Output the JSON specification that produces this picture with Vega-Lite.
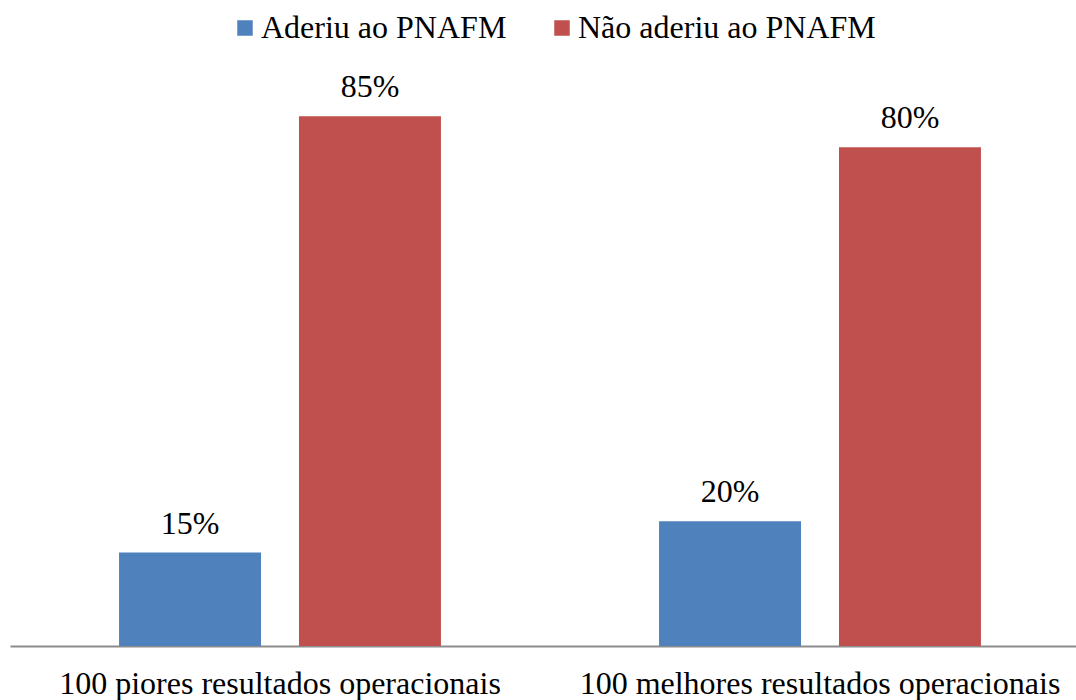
{
  "$schema": "https://vega.github.io/schema/vega-lite/v6.json",
  "autosize": {"type": "none"},
  "padding": {"left": 10, "top": 85, "right": 0, "bottom": 54},
  "width": 1066,
  "height": 561,
  "background": "white",
  "config": {
    "view": {"stroke": null},
    "font": "'Liberation Serif', 'Times New Roman', serif",
    "text": {"font": "'Liberation Serif', 'Times New Roman', serif"}
  },
  "data": {
    "values": [
      {"grupo": "100 piores resultados operacionais", "serie": "Aderiu ao PNAFM", "valor": 0.15},
      {"grupo": "100 piores resultados operacionais", "serie": "Não aderiu ao PNAFM", "valor": 0.85},
      {"grupo": "100 melhores resultados operacionais", "serie": "Aderiu ao PNAFM", "valor": 0.20},
      {"grupo": "100 melhores resultados operacionais", "serie": "Não aderiu ao PNAFM", "valor": 0.80}
    ]
  },
  "encoding": {
    "x": {
      "field": "grupo",
      "type": "nominal",
      "sort": ["100 piores resultados operacionais", "100 melhores resultados operacionais"],
      "scale": {"range": [0, 1080], "paddingInner": 0, "paddingOuter": 0},
      "axis": {
        "title": null,
        "labelAngle": 0,
        "ticks": false,
        "domainColor": "#8c8c8c",
        "domainWidth": 2,
        "labelFont": "'Liberation Serif', 'Times New Roman', serif",
        "labelFontSize": 32,
        "labelColor": "black",
        "labelPadding": 22,
        "labelLimit": 600
      }
    },
    "xOffset": {
      "field": "serie",
      "type": "nominal",
      "sort": ["Aderiu ao PNAFM", "Não aderiu ao PNAFM"],
      "scale": {"paddingInner": 0.211, "paddingOuter": 0.606}
    },
    "y": {
      "field": "valor",
      "type": "quantitative",
      "scale": {"domain": [0, 0.9], "nice": false, "zero": true},
      "axis": null
    }
  },
  "layer": [
    {
      "mark": {"type": "bar"},
      "encoding": {
        "color": {
          "field": "serie",
          "type": "nominal",
          "scale": {"domain": ["Aderiu ao PNAFM", "Não aderiu ao PNAFM"], "range": ["#4F81BD", "#C0504D"]},
          "legend": {
            "orient": "none",
            "legendX": 219,
            "legendY": -73,
            "direction": "horizontal",
            "title": null,
            "symbolType": "square",
            "symbolSize": 240,
            "symbolStrokeWidth": 0,
            "labelFont": "'Liberation Serif', 'Times New Roman', serif",
            "labelFontSize": 32,
            "labelColor": "black",
            "labelOffset": 0,
            "columnPadding": 39,
            "labelLimit": 500
          }
        }
      }
    },
    {
      "mark": {"type": "text", "baseline": "alphabetic", "dy": -19, "fontSize": 32, "font": "'Liberation Serif', 'Times New Roman', serif", "color": "black"},
      "encoding": {
        "text": {"field": "valor", "type": "quantitative", "format": ".0%"}
      }
    }
  ]
}
